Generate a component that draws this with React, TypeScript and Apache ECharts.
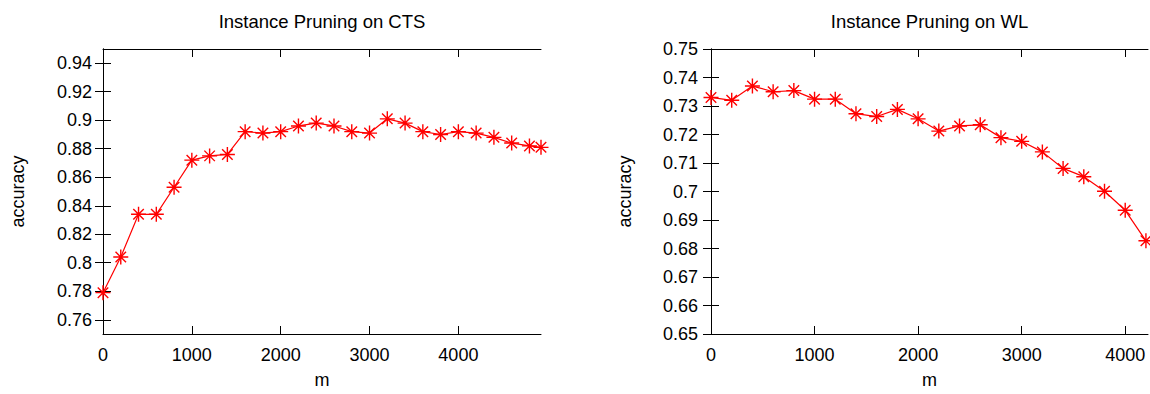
import React, { useEffect, useRef } from "react";
import * as echarts from "echarts";

const ctsM = [0, 200, 400, 600, 800, 1000, 1200, 1400, 1600, 1800, 2000, 2200, 2400, 2600, 2800, 3000, 3200, 3400, 3600, 3800, 4000, 4200, 4400, 4600, 4800, 4930];
const ctsAcc = [0.779, 0.804, 0.834, 0.834, 0.853, 0.872, 0.875, 0.876, 0.892, 0.891, 0.892, 0.896, 0.898, 0.896, 0.892, 0.891, 0.901, 0.898, 0.892, 0.890, 0.892, 0.891, 0.888, 0.884, 0.882, 0.881];

const wlM = [0, 200, 400, 600, 800, 1000, 1200, 1400, 1600, 1800, 2000, 2200, 2400, 2600, 2800, 3000, 3200, 3400, 3600, 3800, 4000, 4200];
const wlAcc = [0.733, 0.732, 0.737, 0.735, 0.7354, 0.7324, 0.7324, 0.7273, 0.7263, 0.7288, 0.7255, 0.7212, 0.723, 0.7234, 0.7189, 0.7176, 0.7139, 0.7081, 0.7052, 0.7001, 0.6934, 0.6827];

const ctsYTicks = [0.76, 0.78, 0.8, 0.82, 0.84, 0.86, 0.88, 0.9, 0.92, 0.94];
const wlYTicks = [0.65, 0.66, 0.67, 0.68, 0.69, 0.7, 0.71, 0.72, 0.73, 0.74, 0.75];
const ctsXTicks = [0, 1000, 2000, 3000, 4000];
const wlXTicks = [0, 1000, 2000, 3000, 4000];

const titles = ["Instance Pruning on CTS", "Instance Pruning on WL"];

const FONT = "Liberation Sans, Arial, Helvetica, sans-serif";
const ASTERISK = "path://M0,5L10,5M5,0L5,10M1.5,1.5L8.5,8.5M1.5,8.5L8.5,1.5";

function fmt(v: number) {
  return String(parseFloat(Number(v).toFixed(3)));
}

export default function App() {
  const ref = useRef<HTMLDivElement>(null);
  useEffect(() => {
    if (!ref.current) return;
    const chart = echarts.init(ref.current, null, { renderer: "svg" });
    const grids = [
      { left: 103, top: 49, width: 438, height: 290 },
      { left: 711, top: 49, width: 437, height: 290 },
    ];
    const axisLine = { show: true, lineStyle: { color: "#000", width: 1 } };
    const tickStyle = { lineStyle: { color: "#000", width: 1 } };
    const labelStyle = { color: "#000", fontSize: 18, fontFamily: FONT };
    const xDefs = [
      { max: 4930, ticks: ctsXTicks },
      { max: 4220, ticks: wlXTicks },
    ];
    const yDefs = [
      { min: 0.75, max: 0.95, ticks: ctsYTicks, margin: 11, nameGap: 76 },
      { min: 0.65, max: 0.75, ticks: wlYTicks, margin: 13, nameGap: 77 },
    ];
    const xAxis: any[] = [];
    const yAxis: any[] = [];
    [0, 1].forEach((g) => {
      const xd = xDefs[g];
      const yd = yDefs[g];
      xAxis.push({
        type: "value", gridIndex: g, position: "bottom", min: 0, max: xd.max,
        axisLine, splitLine: { show: false },
        axisTick: { show: true, inside: true, length: 8, customValues: xd.ticks, ...tickStyle },
        axisLabel: { ...labelStyle, margin: 12, customValues: xd.ticks, formatter: (v: number) => fmt(v) },
        name: "m", nameLocation: "middle", nameGap: 37,
        nameTextStyle: { color: "#000", fontSize: 18, fontFamily: FONT },
      });
      xAxis.push({
        type: "value", gridIndex: g, position: "top", min: 0, max: xd.max,
        axisLine, splitLine: { show: false },
        axisTick: { show: true, inside: true, length: 8, customValues: xd.ticks, ...tickStyle },
        axisLabel: { show: false },
      });
      yAxis.push({
        type: "value", gridIndex: g, position: "left", min: yd.min, max: yd.max,
        axisLine, splitLine: { show: false },
        axisTick: { show: true, inside: true, length: 8, customValues: yd.ticks, ...tickStyle },
        axisLabel: { ...labelStyle, margin: yd.margin, customValues: yd.ticks, formatter: (v: number) => fmt(v) },
        name: "accuracy", nameLocation: "middle", nameGap: yd.nameGap,
        nameTextStyle: { color: "#000", fontSize: 18, fontFamily: FONT },
      });
      yAxis.push({
        type: "value", gridIndex: g, position: "right", min: yd.min, max: yd.max,
        axisLine, splitLine: { show: false },
        axisTick: { show: true, inside: true, length: 8, customValues: yd.ticks, ...tickStyle },
        axisLabel: { show: false },
      });
    });
    const mk = (xs: number[], ys: number[]) => xs.map((x, i) => [x, ys[i]]);
    const seriesStyle = {
      type: "line",
      symbol: ASTERISK,
      symbolSize: 15,
      showAllSymbol: true,
      lineStyle: { color: "#ff0000", width: 1.2 },
      itemStyle: { color: "#ff0000", borderColor: "#ff0000", borderWidth: 1.4 },
      clip: true,
    };
    chart.setOption({
      animation: false,
      backgroundColor: "#fff",
      grid: grids,
      xAxis,
      yAxis,
      graphic: [
        { type: "text", x: 322, y: 21, style: { text: titles[0], align: "center", verticalAlign: "middle", font: `18.5px ${FONT}`, fill: "#000" } },
        { type: "text", x: 929.5, y: 21, style: { text: titles[1], align: "center", verticalAlign: "middle", font: `18.5px ${FONT}`, fill: "#000" } },
      ],
      series: [
        { ...seriesStyle, xAxisIndex: 0, yAxisIndex: 0, data: mk(ctsM, ctsAcc) },
        { ...seriesStyle, xAxisIndex: 2, yAxisIndex: 2, data: mk(wlM, wlAcc) },
      ],
    });
    return () => chart.dispose();
  }, []);
  return <div ref={ref} style={{ position: "fixed", left: 0, top: 0, width: 1150, height: 394 }} />;
}
